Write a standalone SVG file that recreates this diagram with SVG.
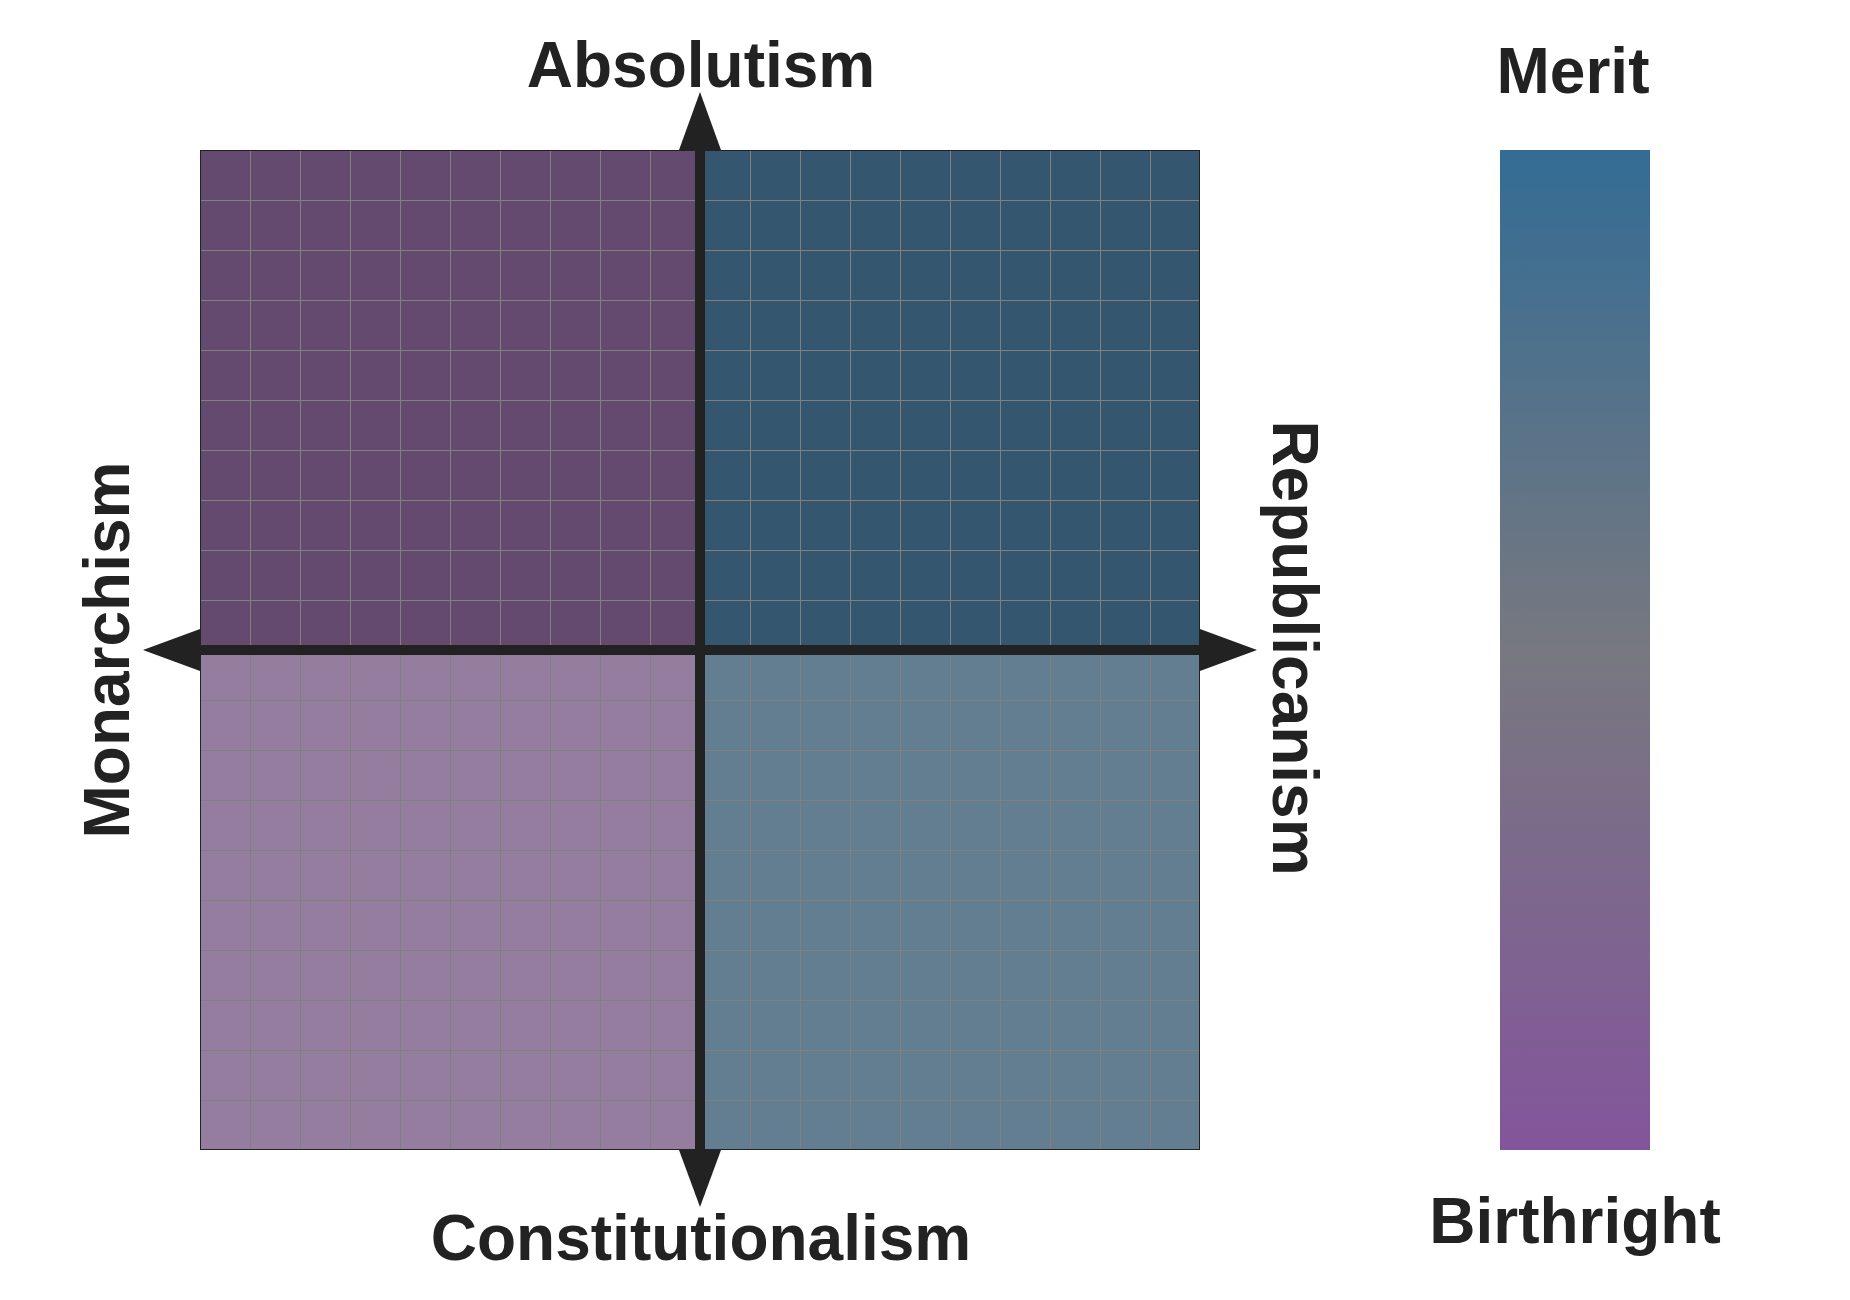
<svg xmlns="http://www.w3.org/2000/svg" width="1850" height="1300" viewBox="0 0 1850 1300">
<style>
.lbl{font-family:"Liberation Sans",Arial,sans-serif;font-weight:bold;font-size:64px;fill:#222222}
.axis{fill:#222222}
</style>
<defs>
<linearGradient id="cb" x1="0" y1="0" x2="0" y2="1">
<stop offset="0" stop-color="#336C94"/>
<stop offset="0.5" stop-color="#777880"/>
<stop offset="1" stop-color="#83559B"/>
</linearGradient>
<pattern id="gp" x="200" y="150" width="50" height="50" patternUnits="userSpaceOnUse">
<path d="M0 0.5H50M0.5 0V50" stroke="#808080" stroke-width="1" fill="none"/>
</pattern>
</defs>
<rect width="1850" height="1300" fill="#ffffff"/>
<g id="quadrants">
<rect x="200" y="150" width="500" height="500" fill="#654A70"/>
<rect x="700" y="150" width="500" height="500" fill="#34566E"/>
<rect x="200" y="650" width="500" height="500" fill="#957D9F"/>
<rect x="700" y="650" width="500" height="500" fill="#637D91"/>
<rect x="200" y="150" width="1000" height="1000" fill="url(#gp)"/>
<rect x="200.5" y="150.5" width="999" height="999" fill="none" stroke="#222222" stroke-width="1"/>
</g>
<g id="connectors">
<rect class="axis" x="695" y="150" width="10" height="1000"/>
<rect class="axis" x="200" y="645" width="1000" height="10"/>
<polygon class="axis" points="679,150 700,92 721,150"/>
<polygon class="axis" points="679,1150 700,1207 721,1150"/>
<polygon class="axis" points="200,629 143,650 200,671"/>
<polygon class="axis" points="1200,629 1257,650 1200,671"/>
</g>
<g id="label-absolutism"><text class="lbl" x="701" y="87" text-anchor="middle">Absolutism</text></g>
<g id="label-constitutionalism"><text class="lbl" x="701" y="1260" text-anchor="middle">Constitutionalism</text></g>
<g id="label-monarchism"><text class="lbl" transform="translate(129,650) rotate(-90)" text-anchor="middle">Monarchism</text></g>
<g id="label-republicanism"><text class="lbl" transform="translate(1273,648) rotate(90)" text-anchor="middle">Republicanism</text></g>
<g id="colorbar">
<rect x="1500" y="150" width="150" height="1000" fill="url(#cb)"/>
<text class="lbl" x="1573" y="93" text-anchor="middle">Merit</text>
<text class="lbl" x="1575" y="1243" text-anchor="middle">Birthright</text>
</g>
</svg>
